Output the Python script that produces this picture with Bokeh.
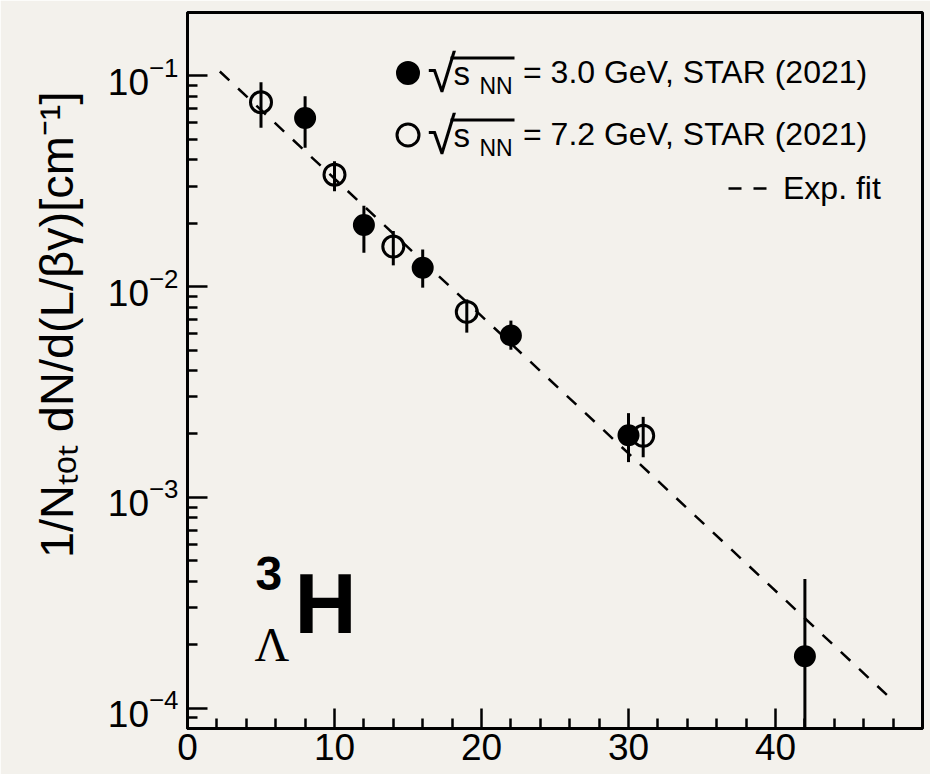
from bokeh.plotting import figure
from bokeh.models import Label, FixedTicker, BoxAnnotation, Range1d, Legend, LegendItem
from bokeh.embed import file_html
from bokeh.resources import INLINE

# ---------------- data ----------------
x_30 = [8, 12, 16, 22, 30, 42]
y_30 = [0.0632, 0.0196, 0.0123, 0.00587, 0.00197, 1.76e-4]
y_30_hi = [0.080, 0.0242, 0.0150, 0.0069, 0.00251, 4.1e-4]
y_30_lo = [0.0456, 0.0145, 0.00989, 0.00502, 0.00147, 1e-6]

x_72 = [5, 10, 14, 19, 31]
y_72 = [0.0750, 0.0340, 0.0155, 0.00759, 0.00196]
y_72_hi = [0.0933, 0.0394, 0.01837, 0.0087, 0.00241]
y_72_lo = [0.0568, 0.0284, 0.01262, 0.00605, 0.00155]

fit_x = [2.2, 47.9]
fit_y = [0.105, 1.1e-4]

x_ticks = [0, 10, 20, 30, 40, 50]
x_minor = [2, 4, 6, 8, 12, 14, 16, 18, 22, 24, 26, 28, 32, 34, 36, 38, 42, 44, 46, 48]
y_ticks = [1e-4, 1e-3, 1e-2, 1e-1]
y_minor = [m * 10.0 ** k for k in range(-5, 0) for m in range(2, 10)]

y_title = "\u00a0" * 7 + "1/N\u209c\u2092\u209c dN/d(L/\u03b2\u03b3)[cm\u207b\u00b9]"
leg_labels = ["= 3.0 GeV, STAR (2021)", "= 7.2 GeV, STAR (2021)"]
fit_label = "Exp. fit"

# ---------------- style ----------------
BG = "#f3f1ec"
FONT = "Liberation Sans"
FL, FB = 187, 728  # frame left / bottom in page pixels


def sx(px):
    return px - FL


def sy(py):
    return FB - py


p = figure(width=930, height=774, x_range=Range1d(0, 50), y_range=Range1d(8e-5, 0.2),
           y_axis_type="log", output_backend="svg", toolbar_location=None, title=None,
           min_border_left=FL, min_border_right=8, min_border_top=12, min_border_bottom=46)
p.background_fill_color = BG
p.border_fill_color = BG
p.grid.visible = False
p.outline_line_color = "black"
p.outline_line_width = 3

for ax in (p.xaxis[0], p.yaxis[0]):
    ax.axis_line_width = 3
    ax.major_tick_in = 20
    ax.major_tick_out = 0
    ax.minor_tick_in = 10
    ax.minor_tick_out = 0
    ax.major_tick_line_width = 2.5
    ax.minor_tick_line_width = 2.5
    ax.major_label_text_font = FONT
    ax.major_label_text_font_size = "37px"
    ax.major_label_text_color = "black"

p.xaxis.ticker = FixedTicker(ticks=x_ticks, minor_ticks=x_minor)
p.xaxis.major_label_standoff = 5
p.xaxis.major_label_overrides = {50: ""}

p.yaxis.ticker = FixedTicker(ticks=y_ticks, minor_ticks=y_minor)
p.yaxis.major_label_standoff = 9
p.yaxis.axis_label = y_title
p.yaxis.axis_label_text_font = FONT
p.yaxis.axis_label_text_font_style = "normal"
p.yaxis.axis_label_text_font_size = "47px"
p.yaxis.axis_label_text_color = "black"
p.yaxis.axis_label_standoff = 22

# ---------------- marks ----------------
p.segment(x0=x_30, y0=y_30_lo, x1=x_30, y1=y_30_hi, line_color="black", line_width=3)
p.segment(x0=x_72, y0=y_72_lo, x1=x_72, y1=y_72_hi, line_color="black", line_width=3)
r_fit = p.line(fit_x, fit_y, line_color="black", line_width=2.5, line_dash="13 12")
r30 = p.scatter(x_30, y_30, size=20, marker="circle", fill_color="black", line_color="black", line_width=2)
r72 = p.scatter(x_72, y_72, size=21, marker="circle", fill_color=None, line_color="black", line_width=3)

# ---------------- legend ----------------
leg = Legend(items=[LegendItem(label=leg_labels[0], renderers=[r30]),
                    LegendItem(label=leg_labels[1], renderers=[r72])],
             location=(sx(380), sy(162)), glyph_width=55, glyph_height=55, spacing=7,
             padding=0, margin=0, label_standoff=88, border_line_color=None,
             background_fill_alpha=0, label_text_font=FONT, label_text_font_size="32px",
             label_text_color="black")
p.add_layout(leg)
leg2 = Legend(items=[LegendItem(label=fit_label, renderers=[r_fit])],
              location=(sx(728), sy(208)), glyph_width=42, glyph_height=40, padding=0, margin=0,
              label_standoff=13, border_line_color=None, background_fill_alpha=0,
              label_text_font=FONT, label_text_font_size="32px", label_text_color="black")
p.add_layout(leg2)


def put(text, px, py, size, font=FONT, style="normal"):
    p.add_layout(Label(x=sx(px), y=sy(py), x_units="screen", y_units="screen", text=text,
                       text_font=font, text_font_style=style, text_font_size=f"{size}px",
                       text_color="black", text_baseline="alphabetic", text_align="left"))


for row in range(2):
    dy = 62 * row
    put("\u221a", 427, 73 + dy, 52)
    put("s", 453, 73 + dy, 33)
    put("NN", 479, 85 + dy, 23)
    p.add_layout(BoxAnnotation(left=sx(450), right=sx(514), top=sy(56 + dy), bottom=sy(59 + dy),
                               left_units="screen", right_units="screen", top_units="screen",
                               bottom_units="screen", fill_color="black", fill_alpha=1,
                               line_color=None))

# big particle label
put("3", 255, 573, 48, style="bold")
put("\u039b", 254, 644, 48, font="Liberation Serif")
put("H", 294, 602, 86, style="bold")

open("out.html", "w").write(file_html(p, INLINE))
